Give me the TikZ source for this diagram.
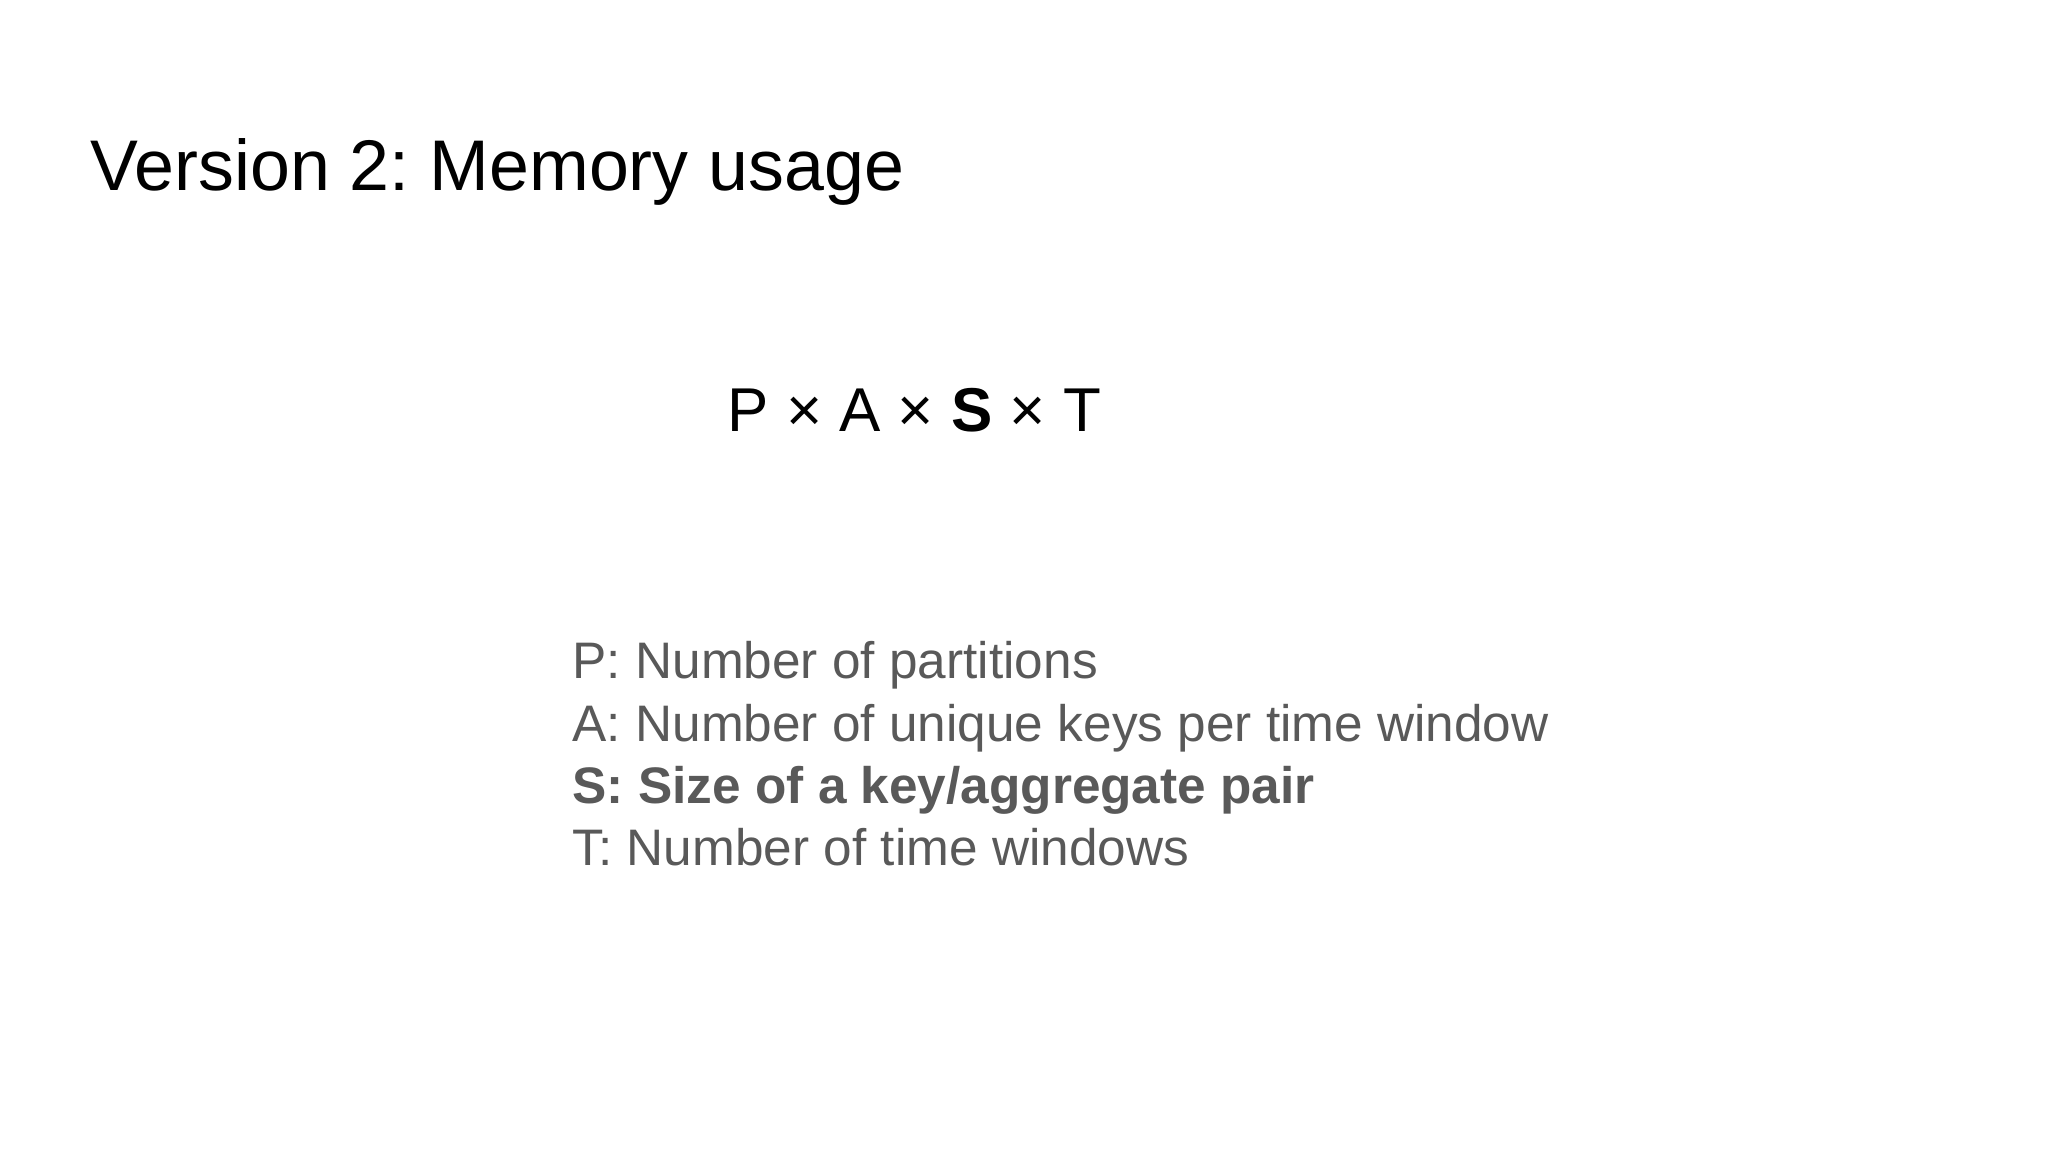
\documentclass[tikz,border=0pt]{standalone}
\usepackage{fontspec}
\setmainfont{Liberation Sans}
\frenchspacing
\definecolor{txtgray}{HTML}{595959}
\begin{document}
\begin{tikzpicture}[x=0.01cm,y=-0.01cm,
  lbl/.style={anchor=base west,inner sep=0pt}]
\useasboundingbox (0,0) rectangle (2048,1152);
\node[lbl,font=\fontsize{20.4}{24}\selectfont] (title) at (90,191) {Version 2: Memory usage};
\node[lbl,font=\fontsize{17.6}{21}\selectfont] (formula) at (727,432) {P × A × \textbf{S} × T};
\node[lbl,text=txtgray,font=\fontsize{14.6}{17}\selectfont] (l1) at (572,679) {P: Number of partitions};
\node[lbl,text=txtgray,font=\fontsize{14.6}{17}\selectfont] (l2) at (572,741) {A: Number of unique keys per time window};
\node[lbl,text=txtgray,font=\fontsize{14.6}{17}\selectfont\bfseries] (l3) at (572,803) {S: Size of a key/aggregate pair};
\node[lbl,text=txtgray,font=\fontsize{14.6}{17}\selectfont] (l4) at (572,865) {T: Number of time windows};
\end{tikzpicture}
\end{document}
